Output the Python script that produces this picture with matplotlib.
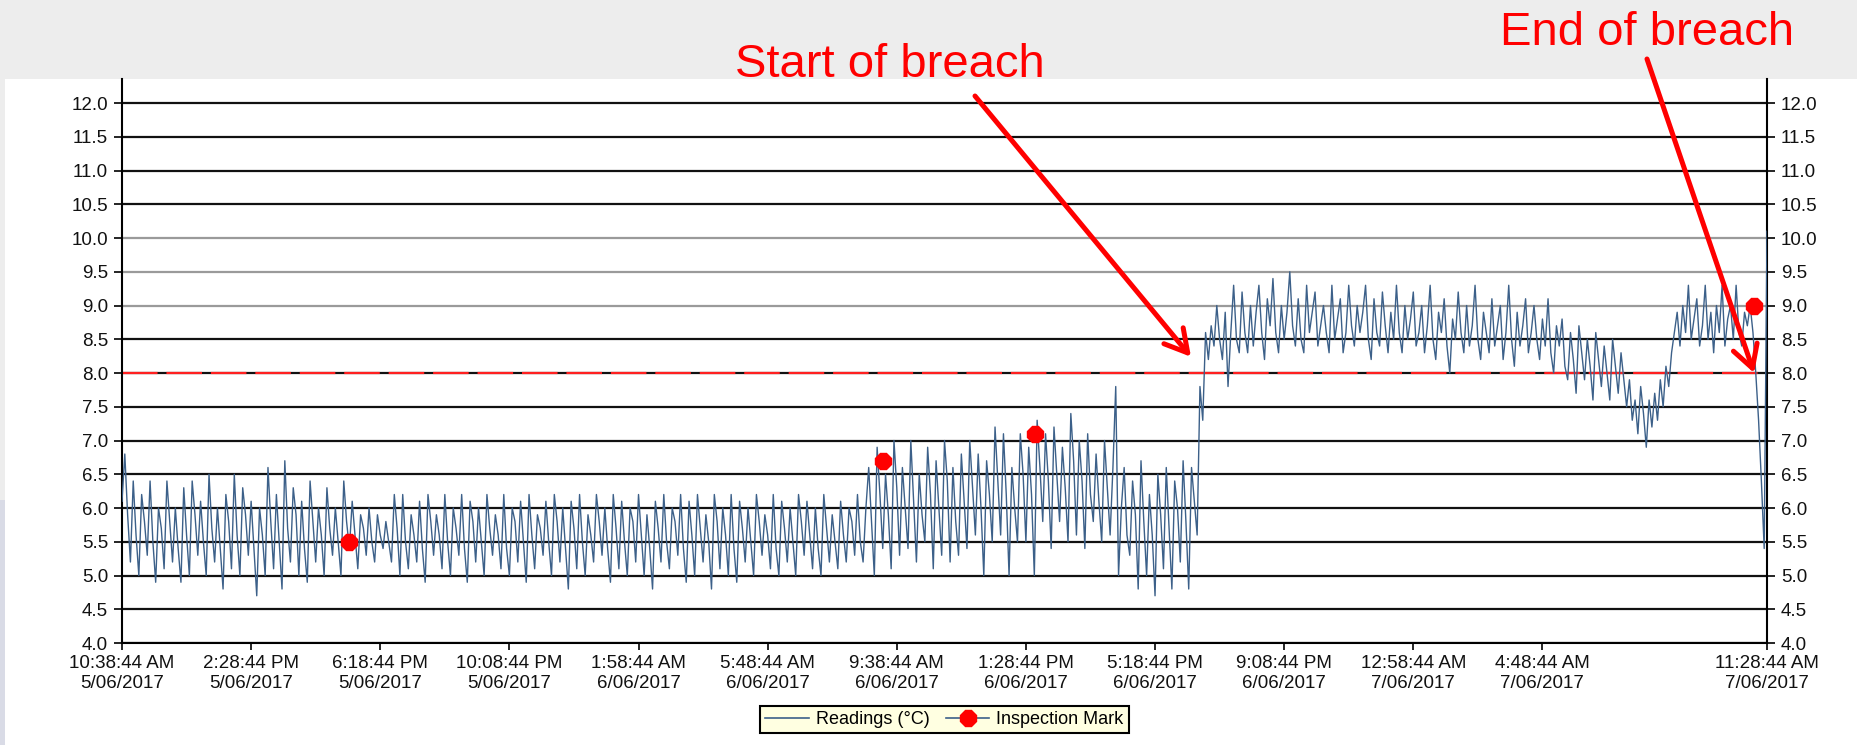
import pandas as pd
import matplotlib.pyplot as plt
import matplotlib.dates as mdates
from matplotlib.lines import Line2D
from matplotlib.patches import Rectangle

plt.rcParams['font.family'] = ['Liberation Sans', 'DejaVu Sans']

# logger readings, one every 5 minutes from start to end
start = pd.Timestamp('2017-06-05 10:38:44')
end = pd.Timestamp('2017-06-07 11:28:44')

readings = [
    # 5/06 daytime
    6.1, 6.8, 5.9, 5.2, 6.4, 5.6, 5.0, 6.2, 5.8, 5.3, 6.4, 5.5, 4.9, 6.0, 5.7, 5.1,
    6.4, 5.8, 5.2, 6.0, 5.4, 4.9, 6.3, 5.6, 5.0, 6.4, 5.9, 5.3, 6.1, 5.5, 5.0, 6.5,
    5.7, 5.2, 6.0, 5.4, 4.8, 6.2, 5.8, 5.1, 6.5, 5.6, 5.0, 6.3, 5.9, 5.3, 6.1, 5.4,
    4.7, 6.0, 5.6, 5.0, 6.6, 5.8, 5.1, 6.2, 5.5, 4.8, 6.7, 5.7, 5.2, 6.3, 5.9, 5.0,
    6.1, 5.4, 4.9, 6.4, 5.8, 5.2, 6.0, 5.6, 5.0, 6.3, 5.7, 5.3, 6.0, 5.5, 5.0, 6.4,
    5.8, 5.4, 6.1, 5.6, 5.1, 5.9, 5.7, 5.3, 6.0, 5.5, 5.2, 5.9, 5.6, 5.4, 5.8, 5.5,
    # evening / overnight
    5.2, 6.2, 5.7, 5.0, 6.2, 5.5, 5.1, 5.9, 5.6, 5.2, 6.1, 5.4, 4.9, 6.2, 5.8, 5.3,
    5.9, 5.6, 5.1, 6.2, 5.5, 5.0, 6.0, 5.7, 5.3, 6.2, 5.4, 4.9, 6.1, 5.8, 5.2, 6.0,
    5.5, 5.0, 6.2, 5.7, 5.3, 5.9, 5.6, 5.1, 6.2, 5.4, 5.0, 6.0, 5.8, 5.2, 6.1, 5.5,
    4.9, 6.2, 5.6, 5.1, 5.9, 5.7, 5.3, 6.1, 5.5, 5.0, 6.2, 5.8, 5.2, 6.0, 5.4, 4.8,
    6.1, 5.7, 5.1, 6.2, 5.5, 5.0, 5.9, 5.6, 5.2, 6.2, 5.8, 5.3, 6.0, 5.4, 4.9, 6.2,
    5.7, 5.1, 6.1, 5.5, 5.0, 6.0, 5.8, 5.2, 6.2, 5.6, 5.0, 5.9, 5.4, 4.8, 6.1, 5.7,
    5.2, 6.2, 5.5, 5.1, 6.0, 5.8, 5.3, 6.2, 5.4, 4.9, 6.1, 5.6, 5.0, 6.2, 5.7, 5.2,
    5.9, 5.5, 4.8, 6.2, 5.8, 5.1, 6.0, 5.6, 5.0, 6.2, 5.4, 4.9, 6.1, 5.7, 5.2, 6.0,
    5.5, 5.0, 6.2, 5.8, 5.3, 5.9, 5.6, 5.1, 6.2, 5.4, 5.0, 6.1, 5.7, 5.2, 6.0, 5.5,
    5.0, 6.2, 5.8, 5.3, 6.1, 5.6, 5.1, 6.0, 5.4, 5.0, 6.2, 5.7, 5.2, 5.9, 5.5, 5.1,
    6.1, 5.6, 5.2, 6.0, 5.8, 5.3, 6.2, 5.5, 5.2, 6.0,
    # 6/06 from about 9:30 AM
    6.6, 5.8, 5.0, 6.9, 6.2, 5.4, 6.5, 5.9, 5.1, 7.0, 6.3, 5.3, 6.6, 6.0, 5.4, 7.0,
    6.1, 5.2, 6.5, 5.9, 5.5, 6.9, 6.2, 5.1, 6.7, 6.0, 5.3, 7.0, 6.4, 5.2, 6.6, 5.8,
    5.3, 6.8, 6.1, 5.4, 7.0, 6.3, 5.6, 6.8, 6.0, 5.0, 6.7, 6.2, 5.5,
    7.2, 6.4, 5.6, 7.1, 6.2, 5.0, 6.6, 6.0, 5.5, 7.1, 6.5, 5.5, 6.9, 6.2, 5.0, 7.3,
    6.6, 5.8, 7.1, 6.4, 5.4, 7.2, 6.5, 5.8, 6.9, 6.3, 5.5, 7.4, 6.7, 5.6, 7.0, 6.4,
    5.4, 7.1, 6.2, 5.8, 6.8, 6.1, 5.5, 7.0, 6.3, 5.6, 6.6, 7.8,
    5.0, 6.0, 6.6, 5.6, 5.3, 6.4, 5.9, 4.8, 6.7, 5.8, 5.0, 6.2, 5.6, 4.7, 6.5, 5.9,
    5.1, 6.6, 5.7, 4.8, 6.4, 6.0, 5.2, 6.7, 5.8, 4.8, 6.6, 6.1, 5.6,
    # breach
    7.8, 7.3, 8.6, 8.2,
    8.7, 8.4, 9.0, 8.5, 8.2, 8.9, 7.8, 8.6, 9.3, 8.5, 8.3, 9.2, 8.6, 8.3, 9.0, 8.4,
    8.9, 9.3, 8.6, 8.2, 9.1, 8.7, 9.4, 8.6, 8.3, 9.0, 8.5, 8.9, 9.5, 8.7, 8.4, 9.1,
    8.5, 8.3, 9.3, 8.6, 8.9, 9.2, 8.4, 8.7, 9.0, 8.6, 8.3, 9.3, 8.5, 8.8, 9.1, 8.3,
    8.6, 9.3, 8.7, 8.4, 9.0, 8.6, 8.9, 9.3, 8.5, 8.2, 9.1, 8.6, 8.4, 9.2, 8.7, 8.3,
    8.9, 8.5, 9.3, 8.6, 8.3, 9.0, 8.5, 8.8, 9.2, 8.4, 8.6, 9.0, 8.3, 8.7, 9.3, 8.5,
    8.2, 8.9, 8.6, 9.1, 8.4, 8.0, 8.8, 8.5, 9.2, 8.6, 8.3, 9.0, 8.4, 8.7, 9.3, 8.5,
    8.2, 8.9, 8.6, 8.3, 9.1, 8.4, 8.7, 9.0, 8.2, 8.6, 9.3, 8.5, 8.1, 8.9, 8.4, 8.7,
    9.1, 8.3, 8.6, 9.0, 8.5, 8.2, 8.8, 8.4, 9.1, 8.3, 8.0, 8.7,
    8.4, 8.8, 8.1, 7.9, 8.6, 8.2, 7.7, 8.7, 8.3, 7.9, 8.5, 8.1, 7.6, 8.6, 8.2, 7.8,
    8.4, 8.0, 7.6, 8.5, 8.1, 7.7, 8.3, 7.9, 7.5,
    7.9, 7.3, 7.6, 7.1, 7.8, 7.4, 6.9, 7.6, 7.2, 7.7, 7.3, 7.9, 7.5, 8.1, 7.8, 8.3,
    8.6, 8.9, 8.4, 9.0, 8.6, 9.3, 8.5, 8.8, 9.1, 8.4, 8.7, 9.3, 8.5, 8.9, 8.3, 9.0,
    8.6, 9.3, 8.4, 8.8, 9.0, 8.5, 9.3, 8.6, 8.4, 8.9, 8.7,
    9.0, 8.6, 8.0, 7.3, 6.4, 5.4, 10.1,
]
times = pd.date_range(start, end, periods=len(readings))

mark_times = pd.to_datetime(['2017-06-05 17:22:44', '2017-06-06 09:14:44',
                             '2017-06-06 13:44:44', '2017-06-07 11:05:44'])
mark_values = [5.5, 6.7, 7.1, 9.0]

tick_times = pd.to_datetime([
    '2017-06-05 10:38:44', '2017-06-05 14:28:44', '2017-06-05 18:18:44',
    '2017-06-05 22:08:44', '2017-06-06 01:58:44', '2017-06-06 05:48:44',
    '2017-06-06 09:38:44', '2017-06-06 13:28:44', '2017-06-06 17:18:44',
    '2017-06-06 21:08:44', '2017-06-07 00:58:44', '2017-06-07 04:48:44',
    '2017-06-07 11:28:44'])
tick_labels = [
    '10:38:44 AM\n5/06/2017', '2:28:44 PM\n5/06/2017', '6:18:44 PM\n5/06/2017',
    '10:08:44 PM\n5/06/2017', '1:58:44 AM\n6/06/2017', '5:48:44 AM\n6/06/2017',
    '9:38:44 AM\n6/06/2017', '1:28:44 PM\n6/06/2017', '5:18:44 PM\n6/06/2017',
    '9:08:44 PM\n6/06/2017', '12:58:44 AM\n7/06/2017', '4:48:44 AM\n7/06/2017',
    '11:28:44 AM\n7/06/2017']

y_ticks = [4.0, 4.5, 5.0, 5.5, 6.0, 6.5, 7.0, 7.5, 8.0, 8.5, 9.0, 9.5,
           10.0, 10.5, 11.0, 11.5, 12.0]
gray_levels = [9.0, 9.5, 10.0]
limit = 8.0

breach_start = (pd.Timestamp('2017-06-06 18:22:44'), 8.24)
breach_end = (pd.Timestamp('2017-06-07 11:05:44'), 8.0)

blue = '#3c6089'

fig = plt.figure(figsize=(18.58, 7.45), dpi=100, facecolor='#ededed')
W, H = 1858, 745
fig.patches.append(Rectangle((5 / W, 0), 1, (H - 79) / H, transform=fig.transFigure,
                             facecolor='white', edgecolor='none', zorder=-2))
fig.patches.append(Rectangle((0, 0), 5 / W, (H - 500) / H, transform=fig.transFigure,
                             facecolor='#d9dbe6', edgecolor='none', zorder=-2))

ax = fig.add_axes([122 / W, 102 / H, 1645 / W, 564 / H])
ax.set_zorder(1)
ax.set_facecolor('white')

for lvl in y_ticks:
    c = '#9a9a9a' if lvl in gray_levels else '#111111'
    ax.axhline(lvl, color=c, lw=1.6, zorder=1)
ax.axhline(limit, color='#ff2020', lw=1.6, dashes=(16, 4), zorder=2)

ax.plot(times, readings, color=blue, lw=1.0, zorder=3)
ax.plot(mark_times, mark_values, linestyle='none', marker='8', ms=12,
        mfc='red', mec='red', zorder=4)

ax.set_xlim(start, end)
ax.set_ylim(4.0, 12.356)
ax.set_yticks(y_ticks)
ax.set_yticklabels(['%.1f' % v for v in y_ticks])
ax.set_xticks(tick_times)
ax.set_xticklabels(tick_labels)

for s in ['left', 'right', 'bottom']:
    ax.spines[s].set_color('black')
    ax.spines[s].set_linewidth(1.5)
ax.spines['top'].set_visible(False)
ax.tick_params(axis='y', which='both', left=True, right=True, labelleft=True,
               labelright=True, direction='out', length=6, width=1.2, pad=4,
               labelsize=13.5, labelcolor='#111111')
ax.tick_params(axis='x', direction='out', length=5, width=1.2, pad=4,
               labelsize=13.5, labelcolor='#111111')

handles = [Line2D([], [], color=blue, lw=1.2),
           Line2D([], [], color=blue, lw=1.2, marker='8', ms=12, mfc='red', mec='red')]
leg = ax.legend(handles, ['Readings (°C)', 'Inspection Mark'], loc='upper center',
                bbox_to_anchor=(0.5, -0.095), ncol=2, fontsize=13, frameon=True,
                fancybox=False, framealpha=1, facecolor='#ffffe1', edgecolor='black',
                borderpad=0.3, handlelength=2.4, handletextpad=0.4, columnspacing=0.9)
leg.get_frame().set_linewidth(1.5)

# breach annotations
fig.text(735 / W, 1 - 77 / H, 'Start of breach', color='red', fontsize=34,
         va='baseline', zorder=5)
fig.text(1500 / W, 1 - 45 / H, 'End of breach', color='red', fontsize=34,
         va='baseline', zorder=5)
arrow = dict(arrowstyle='->,head_length=0.8,head_width=0.45', color='red', lw=3.6,
             mutation_scale=20, shrinkA=0, shrinkB=0)
ax.annotate('', xy=(mdates.date2num(breach_start[0]), breach_start[1]),
            xytext=(975, H - 96), textcoords='figure pixels', arrowprops=arrow,
            annotation_clip=False, zorder=6)
ax.annotate('', xy=(mdates.date2num(breach_end[0]), breach_end[1]),
            xytext=(1647, H - 59), textcoords='figure pixels', arrowprops=arrow,
            annotation_clip=False, zorder=6)

fig.savefig('out.png', dpi=100, facecolor=fig.get_facecolor())
